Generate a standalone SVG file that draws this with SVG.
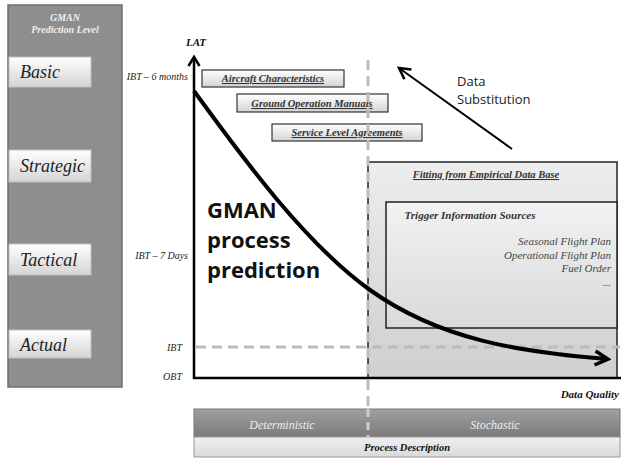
<svg xmlns="http://www.w3.org/2000/svg" width="622" height="459" viewBox="0 0 622 459">
<defs>
<linearGradient id="gBox" x1="0" y1="0" x2="0" y2="1"><stop offset="0" stop-color="#ffffff"/><stop offset="1" stop-color="#d4d4d4"/></linearGradient>
<linearGradient id="gFit" x1="0" y1="0" x2="0" y2="1"><stop offset="0" stop-color="#ededed"/><stop offset="1" stop-color="#cfcfcf"/></linearGradient>
<linearGradient id="gTrig" x1="0" y1="0" x2="0" y2="1"><stop offset="0" stop-color="#f2f2f2"/><stop offset="1" stop-color="#d9d9d9"/></linearGradient>
<linearGradient id="gBar" x1="0" y1="0" x2="0" y2="1"><stop offset="0" stop-color="#a0a0a0"/><stop offset="1" stop-color="#7a7a7a"/></linearGradient>
<linearGradient id="gDesc" x1="0" y1="0" x2="0" y2="1"><stop offset="0" stop-color="#f0f0f0"/><stop offset="1" stop-color="#dadada"/></linearGradient>
<marker id="ah" markerWidth="18" markerHeight="18" refX="14" refY="9" orient="auto" markerUnits="userSpaceOnUse"><path d="M2,2 L15,9 L2,16" fill="none" stroke="#000" stroke-width="3.5" stroke-linejoin="miter"/></marker>
<marker id="ahOpen" markerWidth="14" markerHeight="14" refX="11" refY="7" orient="auto" markerUnits="userSpaceOnUse"><path d="M2,1.5 L11,7 L2,12.5" fill="none" stroke="#000" stroke-width="2.5"/></marker>
<marker id="ahThin" markerWidth="16" markerHeight="16" refX="13" refY="8" orient="auto" markerUnits="userSpaceOnUse"><path d="M2,2 L13,8 L2,14" fill="none" stroke="#000" stroke-width="2.5"/></marker>
</defs>
<style>
.lvl{fill:url(#gBox);stroke:#bdbdbd;stroke-width:1}
.lvlT{font-family:"Liberation Serif",serif;font-style:italic;font-size:18px;fill:#222}
.ax{font-family:"Liberation Serif",serif;font-style:italic;font-size:10px;fill:#222}
.axB{font-family:"Liberation Serif",serif;font-style:italic;font-weight:bold;font-size:11px;fill:#111}
.src{fill:url(#gBox);stroke:#333;stroke-width:1.2}
.srcT{font-family:"Liberation Serif",serif;font-style:italic;font-weight:bold;font-size:10.5px;fill:#333;text-decoration:underline;text-anchor:middle}
.dash{stroke:#bcbcbc;stroke-width:3;stroke-dasharray:10,6;fill:none}
.list{font-family:"Liberation Serif",serif;font-style:italic;font-size:11px;fill:#444;text-anchor:end}
</style>

<g id="level-panel">
<rect x="8" y="5" width="114" height="382" fill="#8e8e8e" stroke="#6e6e6e" stroke-width="1.5"/>
<text x="65" y="21" text-anchor="middle" font-family="Liberation Serif,serif" font-style="italic" font-weight="bold" font-size="10" fill="#eee">GMAN</text>
<text x="65" y="33" text-anchor="middle" font-family="Liberation Serif,serif" font-style="italic" font-weight="bold" font-size="10" fill="#eee">Prediction Level</text>
</g>
<g id="basic"><rect class="lvl" x="9" y="57" width="82" height="30"/><text class="lvlT" x="20" y="78">Basic</text></g>
<g id="strategic"><rect class="lvl" x="9" y="150" width="82" height="32"/><text class="lvlT" x="20" y="172">Strategic</text></g>
<g id="tactical"><rect class="lvl" x="9" y="244" width="82" height="31"/><text class="lvlT" x="20" y="266">Tactical</text></g>
<g id="actual"><rect class="lvl" x="9" y="330" width="82" height="28"/><text class="lvlT" x="20" y="351">Actual</text></g>

<g id="fitting">
<rect x="368" y="162" width="249" height="216" fill="url(#gFit)" stroke="#222" stroke-width="1.5"/>
<text x="486" y="178" text-anchor="middle" font-family="Liberation Serif,serif" font-style="italic" font-weight="bold" font-size="10.5" fill="#333" text-decoration="underline">Fitting from Empirical Data Base</text>
</g>
<g id="trigger">
<rect x="386" y="202" width="231" height="126" fill="url(#gTrig)" stroke="#222" stroke-width="1.5"/>
<text x="470" y="219" text-anchor="middle" font-family="Liberation Serif,serif" font-style="italic" font-weight="bold" font-size="11" fill="#333">Trigger Information Sources</text>
<text class="list" x="611" y="245">Seasonal Flight Plan</text>
<text class="list" x="611" y="259">Operational Flight Plan</text>
<text class="list" x="611" y="272">Fuel Order</text>
<text class="list" x="611" y="286">...</text>
</g>

<g id="aircraft"><rect class="src" x="202" y="70" width="142" height="17"/><text class="srcT" x="273" y="82">Aircraft Characteristics</text></g>
<g id="ground"><rect class="src" x="237" y="94" width="151" height="18"/><text class="srcT" x="312" y="107">Ground Operation Manuals</text></g>
<g id="service"><rect class="src" x="272" y="124" width="150" height="17"/><text class="srcT" x="347" y="136">Service Level Agreements</text></g>

<g id="connectors">
<line class="dash" x1="368" y1="60" x2="368" y2="436"/>
<line class="dash" x1="196" y1="347" x2="620" y2="347"/>
<line x1="194" y1="379" x2="194" y2="57" stroke="#000" stroke-width="2.5" marker-end="url(#ahOpen)"/>
<line x1="193" y1="378" x2="621" y2="378" stroke="#000" stroke-width="2.5"/>
<path d="M194,91 C230,140 300,240 370,290 S520,352 607,359" fill="none" stroke="#000" stroke-width="4" marker-end="url(#ah)"/>
<line x1="512" y1="149" x2="399" y2="68" stroke="#000" stroke-width="2" marker-end="url(#ahThin)"/>
</g>

<g id="axis-labels">
<text class="axB" x="196" y="46" text-anchor="middle">LAT</text>
<text class="ax" x="188" y="80" text-anchor="end">IBT – 6 months</text>
<text class="ax" x="188" y="259" text-anchor="end">IBT – 7 Days</text>
<text class="ax" x="182" y="351" text-anchor="end">IBT</text>
<text class="ax" x="182" y="380" text-anchor="end">OBT</text>
<text class="axB" x="619" y="398" text-anchor="end">Data Quality</text>
</g>

<g id="gman-text" font-family="Open Sans,sans-serif" font-weight="bold" font-size="22" fill="#111">
<text x="207" y="218">GMAN</text>
<text x="207" y="248">process</text>
<text x="207" y="278">prediction</text>
</g>
<g id="data-substitution" font-family="Open Sans,sans-serif" font-size="13" fill="#222">
<text x="457" y="86">Data</text>
<text x="457" y="104">Substitution</text>
</g>

<g id="process-bar">
<rect x="194" y="409" width="426" height="28" fill="url(#gBar)" stroke="#777" stroke-width="1"/>
<rect x="194" y="437" width="426" height="20" fill="url(#gDesc)" stroke="#999" stroke-width="1"/>
<line x1="368" y1="409" x2="368" y2="437" stroke="#ccc" stroke-width="3" stroke-dasharray="8,5"/>
<text x="282" y="429" text-anchor="middle" font-family="Liberation Serif,serif" font-style="italic" font-size="12" fill="#eee">Deterministic</text>
<text x="495" y="429" text-anchor="middle" font-family="Liberation Serif,serif" font-style="italic" font-size="12" fill="#eee">Stochastic</text>
<text x="407" y="451" text-anchor="middle" font-family="Liberation Serif,serif" font-style="italic" font-weight="bold" font-size="10.5" fill="#111">Process Description</text>
</g>
</svg>
